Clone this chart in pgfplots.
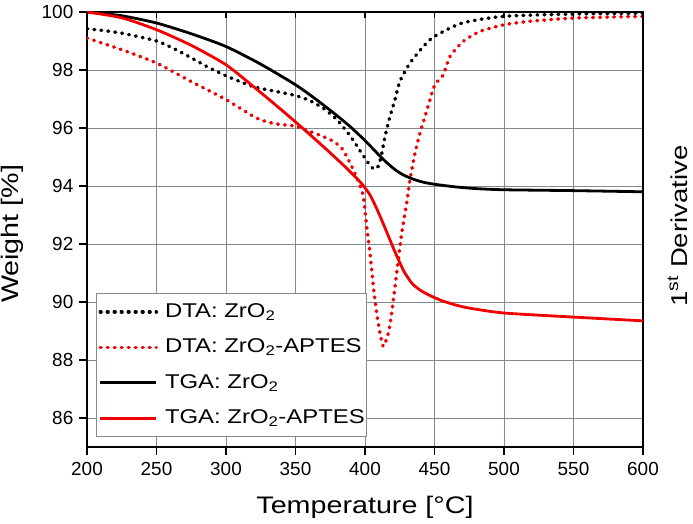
\documentclass[border=0pt]{standalone}
\usepackage{fontspec}
\setmainfont[FakeStretch=1.2]{Liberation Sans}
\newfontfamily\tickfont{Liberation Sans}
\usepackage{pgfplots}
\pgfplotsset{compat=1.18}
\definecolor{gridc}{RGB}{128,140,146}
\definecolor{myred}{RGB}{240,0,0}
\tikzset{
  dotline/.style={line width=3.5bp, line cap=round, dash pattern=on 0.8bp off 6.2bp, smooth, tension=0.4},
  solidline/.style={line width=2.8bp, smooth, tension=0.4}
}
\pgfplotstableread{
x y
200 99.42
212 99.36
225 99.27
237 99.15
250 99.00
262 98.75
275 98.42
287 98.10
300 97.80
320 97.42
335 97.27
350 97.12
360 96.95
370 96.68
380 96.28
390 95.68
398 95.10
403 94.75
406.5 94.58
409.5 94.68
412 95.10
414.4 95.71
418 96.40
421.6 96.98
425.2 97.62
432.4 98.24
442 98.81
450 99.16
470 99.62
500 99.85
550 99.93
600 99.96
}\dtaZ
\pgfplotstableread{
x y
200 99.10
225 98.70
250 98.24
275 97.60
300 96.98
322 96.34
335 96.15
350 96.06
362 95.85
375 95.60
383.2 95.31
389.2 94.80
395.2 94.16
398.8 93.64
401.2 92.61
403.6 91.69
406 90.54
408.4 89.62
410.8 88.93
413.2 88.47
416.8 88.93
419.2 89.62
421.6 90.54
424 91.46
426.4 92.38
430 93.41
432.4 94.22
436 95.14
439.6 95.83
443.2 96.40
446.8 96.98
449.2 97.38
452 97.60
456.4 97.84
461.2 98.47
470.8 98.99
482.7 99.33
500 99.56
518.7 99.68
550 99.79
600 99.85
}\dtaA
\pgfplotstableread{
x y
200 100
225 99.87
250 99.62
275 99.25
300 98.81
325 98.20
350 97.49
365 96.98
380 96.42
390 96.02
398 95.66
404 95.37
410 95.07
416 94.79
422 94.55
428 94.37
435 94.23
442 94.13
450 94.06
465 93.97
480 93.91
500 93.87
550 93.84
600 93.80
}\tgaZ
\pgfplotstableread{
x y
200 100
225 99.80
250 99.39
275 98.85
300 98.18
320 97.42
340 96.62
355 96.00
370 95.36
382 94.83
390 94.46
398 94.06
404 93.66
410 93.05
416 92.37
422 91.68
428 91.06
434 90.63
440 90.40
446 90.24
455 90.05
465 89.90
475 89.79
500 89.62
550 89.48
600 89.35
}\tgaA
\begin{document}
\begin{tikzpicture}
\begin{axis}[
  name=ax,
  width=556bp, height=435bp, scale only axis,
  xmin=200, xmax=600, ymin=85, ymax=100,
  xtick={200,250,...,600}, ytick={86,88,...,100},
  grid=major, major grid style={draw=gridc, line width=0.9bp},
  axis line style={line width=1.6bp},
  xtick pos=left, ytick pos=left, tick align=outside,
  major tick length=7.5bp, tick style={black, line width=1.3bp},
  /pgf/number format/assume math mode=true,
  ticklabel style={font=\tickfont\fontsize{19}{22}\selectfont},
  xticklabel style={inner sep=0bp, anchor=north, yshift=-8bp},
  yticklabel style={inner sep=0bp, anchor=east, xshift=-6bp},
  xlabel={Temperature [°C]}, ylabel={Weight [\%]},
  label style={font=\fontsize{24}{28}\selectfont},
  xlabel style={at={(axis description cs:0.5,-0.1533)}, anchor=base},
  ylabel style={at={(axis description cs:-0.1236,0.49)}, anchor=base},
  legend cell align=left,
  legend image code/.code={\draw[#1] (0bp,0bp) -- (56bp,0bp);},
  legend style={at={(0.0162,0.354)}, anchor=north west, draw=gridc, line width=1bp,
    fill=white, inner xsep=2bp, inner ysep=9bp, row sep=17bp,
    font=\fontsize{20}{24}\selectfont,
    nodes={inner sep=0bp, text height=14.5bp, text depth=4bp},
    /tikz/every odd column/.append style={column sep=7bp}},
]
\addplot[black, dotline] table {\dtaZ};
\addlegendentry{DTA: ZrO\textsubscript{2}}
\addplot[myred, dotline] table {\dtaA};
\addlegendentry{DTA: ZrO\textsubscript{2}-APTES}
\addplot[black, solidline] table {\tgaZ};
\addlegendentry{TGA: ZrO\textsubscript{2}}
\addplot[myred, solidline] table {\tgaA};
\addlegendentry{TGA: ZrO\textsubscript{2}-APTES}
\end{axis}
\begin{axis}[
  width=556bp, height=435bp, scale only axis,
  xmin=200, xmax=600, ymin=85, ymax=100,
  xtick={200,250,...,600}, ytick=\empty, xticklabels={},
  xtick pos=right, tick align=inside,
  major tick length=6bp, tick style={black, line width=1.3bp},
  axis line style={draw=none},
]
\end{axis}
\draw[line width=2.6bp] ([xshift=-0.8bp]ax.south west) -- ([xshift=0.8bp]ax.south east);
\node[xshift=44bp, yshift=3.5bp, rotate=90, anchor=base, font=\fontsize{23}{27}\selectfont]
  at (ax.east) {1\textsuperscript{st} Derivative};
\pgfresetboundingbox
\path[use as bounding box] ([xshift=-87bp,yshift=-77bp]ax.south west) rectangle ([xshift=50bp,yshift=12bp]ax.north east);
\end{tikzpicture}
\end{document}
